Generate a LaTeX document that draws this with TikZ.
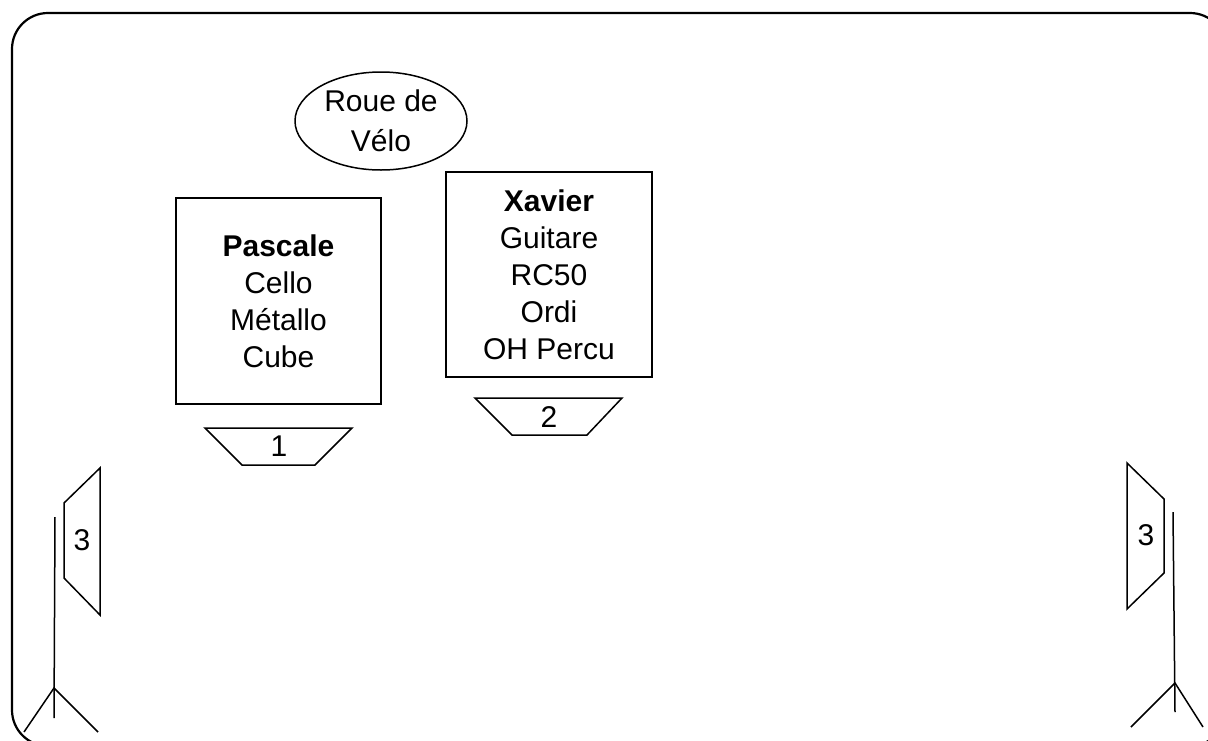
\documentclass[tikz,border=0pt]{standalone}
\usepackage{fontspec}
\setmainfont{Liberation Sans}
\usetikzlibrary{shapes.geometric}
\begin{document}
\begin{tikzpicture}[x=1pt,y=-1pt,
  txt/.style={font=\fontsize{30}{37}\selectfont, align=center},
  boxnode/.style={draw, line width=1.5pt, inner sep=0pt},
  ln/.style={line width=1.5pt},
  stand/.style={line width=1.5pt}]
\useasboundingbox (0,0) rectangle (1208,740);
\begin{scope}
\clip (0,0) rectangle (1208,740);
\draw[line width=2.2pt, rounded corners=36pt] (12,13) rectangle (1226,746);
\end{scope}
% Wheel
\node[draw, ellipse, ln, minimum width=172pt, minimum height=98pt, inner sep=0pt, txt, font=\fontsize{30}{40}\selectfont] (roue) at (381,121) {Roue de\\V\'elo};
% Pascale
\node[boxnode, minimum width=205pt, minimum height=206pt, txt] (pascale) at (278.5,301) {\textbf{Pascale}\\Cello\\M\'etallo\\Cube};
% Xavier
\node[boxnode, minimum width=206pt, minimum height=205pt, txt] (xavier) at (549,274.5) {\textbf{Xavier}\\Guitare\\RC50\\Ordi\\OH Percu};
% Monitor 1
\draw[ln] (205,428) -- (352,428) -- (315,465) -- (242,465) -- cycle;
\node[txt] (m1) at (279,446) {1};
% Monitor 2
\draw[ln] (475,398) -- (622,398) -- (587,435) -- (512,435) -- cycle;
\node[txt] (m2) at (549,417) {2};
% Left speaker
\draw[ln] (100,468) -- (64,503) -- (64,578) -- (100,615) -- cycle;
\node[txt] (s1) at (82,540) {3};
\draw[stand] (55,517) -- (54,718);
\draw[stand] (24,732) -- (54,688) -- (98,732);
% Right speaker
\draw[ln] (1127,463) -- (1164,499) -- (1164,573) -- (1127,609) -- cycle;
\node[txt] (s2) at (1146,535) {3};
\draw[stand] (1173,512) -- (1175,712);
\draw[stand] (1131,727) -- (1175,683) -- (1203,727);
\end{tikzpicture}
\end{document}
